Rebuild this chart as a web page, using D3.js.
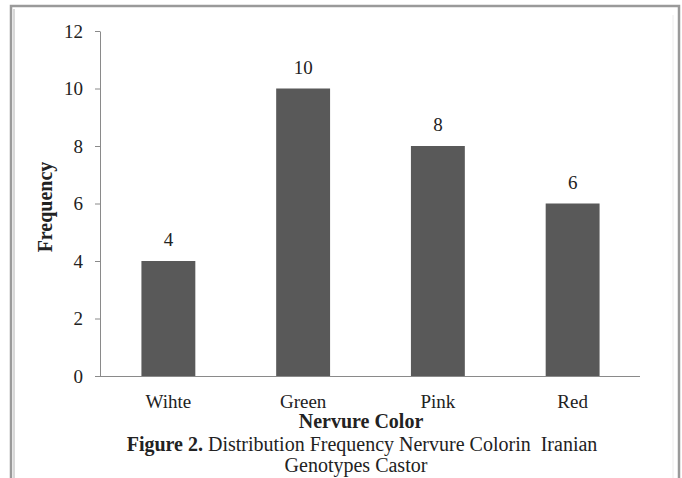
<!DOCTYPE html>
<html>
<head>
<meta charset="utf-8">
<script src="https://cdn.jsdelivr.net/npm/d3@7"></script>
<style>
  html, body { margin: 0; padding: 0; background: #fff; }
  svg { display: block; }
  text, tspan { font-family: "Liberation Serif", "Times New Roman", serif; fill: #222; }
</style>
</head>
<body>
<svg id="chart" width="682" height="478"></svg>
<script>
const categories = ["Wihte", "Green", "Pink", "Red"];
const values = [4, 10, 8, 6];
const yTickValues = [0, 2, 4, 6, 8, 10, 12];
const xTitle = "Nervure Color";
const yTitle = "Frequency";
const captionBold = "Figure 2.";
const captionRest = " Distribution Frequency Nervure Colorin  Iranian";
const captionLine2 = "Genotypes Castor";

const FONT = "Liberation Serif, Times New Roman, serif";
const svg = d3.select("#chart");

// frame
svg.append("rect").attr("x", 0).attr("y", 0).attr("width", 682).attr("height", 478).attr("fill", "#fff");
svg.append("path")
  .attr("d", "M11,478 V6 H679 V478")
  .attr("fill", "none").attr("stroke", "#9a9a9a").attr("stroke-width", 2.5);
svg.append("path")
  .attr("d", "M14,478 V9")
  .attr("fill", "none").attr("stroke", "#d8d8d8").attr("stroke-width", 2);
svg.append("path")
  .attr("d", "M673,15 V478")
  .attr("fill", "none").attr("stroke", "#ececec").attr("stroke-width", 1);

const x = d3.scaleBand().domain(categories).range([101, 640]).paddingInner(0.6).paddingOuter(0.3);
const y = d3.scaleLinear().domain([0, 12]).range([376, 31]);

// bars
svg.append("g").selectAll("rect").data(values).join("rect")
  .attr("x", (d, i) => x(categories[i]))
  .attr("y", d => y(d))
  .attr("width", x.bandwidth())
  .attr("height", d => y(0) - y(d))
  .attr("fill", "#595959");

// value labels
svg.append("g").selectAll("text").data(values).join("text")
  .attr("x", (d, i) => x(categories[i]) + x.bandwidth() / 2)
  .attr("y", d => y(d) - 15)
  .attr("text-anchor", "middle")
  .attr("font-family", FONT)
  .attr("font-size", 19)
  .text(d => d);

// y axis
const yAxis = svg.append("g").attr("transform", "translate(100,0)")
  .call(d3.axisLeft(y).tickValues(yTickValues).tickSize(5).tickSizeOuter(0).tickPadding(12));
yAxis.attr("font-family", FONT);
yAxis.select(".domain").attr("stroke", "#8a8a8a");
yAxis.selectAll(".tick line").attr("stroke", "#8a8a8a");
yAxis.selectAll(".tick text")
  .attr("font-family", FONT).attr("font-size", 19).attr("fill", "#222")
  .attr("dy", "0.33em");

// x axis
const xAxis = svg.append("g").attr("transform", "translate(0,376)")
  .call(d3.axisBottom(x).tickSize(0).tickSizeOuter(0));
xAxis.attr("font-family", FONT);
xAxis.select(".domain").attr("d", "M97,0.5H640").attr("stroke", "#8a8a8a");
xAxis.selectAll(".tick text")
  .attr("font-family", FONT).attr("font-size", 19).attr("fill", "#222")
  .attr("y", 32).attr("dy", 0);

// axis titles
svg.append("text")
  .attr("x", 361).attr("y", 428)
  .attr("text-anchor", "middle").attr("font-family", FONT).attr("font-size", 20).attr("font-weight", "bold")
  .text(xTitle);

svg.append("text")
  .attr("transform", "translate(52,207) rotate(-90)")
  .attr("text-anchor", "middle").attr("font-family", FONT).attr("font-size", 20).attr("font-weight", "bold")
  .text(yTitle);

// caption
const cap = svg.append("text")
  .attr("x", 362).attr("y", 451)
  .attr("text-anchor", "middle").attr("font-family", FONT).attr("font-size", 20)
  .style("white-space", "pre");
cap.append("tspan").attr("font-family", FONT).attr("font-weight", "bold").text(captionBold);
cap.append("tspan").attr("font-family", FONT).text(captionRest);

svg.append("text")
  .attr("x", 356).attr("y", 472)
  .attr("text-anchor", "middle").attr("font-family", FONT).attr("font-size", 20)
  .text(captionLine2);
</script>
</body>
</html>
